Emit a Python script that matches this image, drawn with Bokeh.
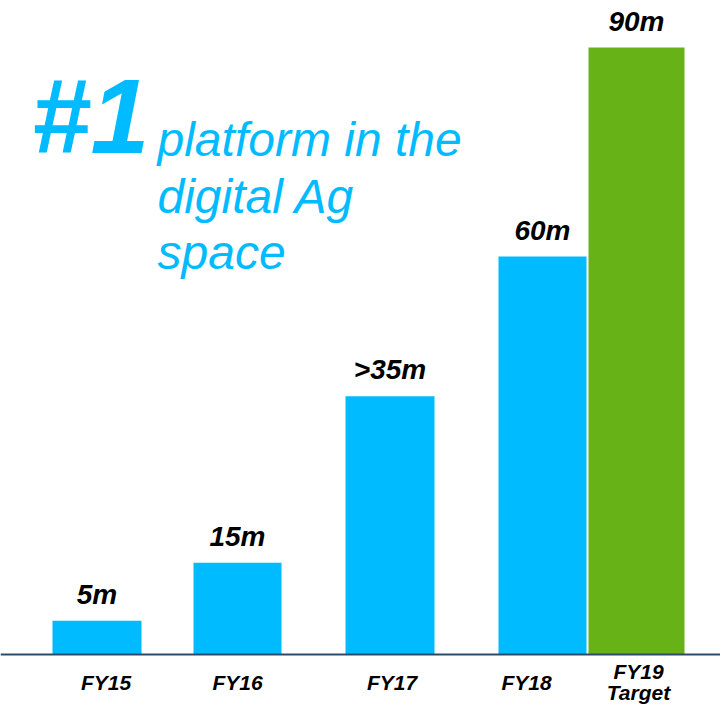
from bokeh.plotting import figure
from bokeh.models import ColumnDataSource, Range1d, Span
from bokeh.core.properties import value
from bokeh.embed import file_html
from bokeh.resources import INLINE

# ---- data ----
categories = ["FY15", "FY16", "FY17", "FY18", "FY19\nTarget"]
users_m = [5.0, 13.6, 38.3, 59.0, 90.0]
value_labels = ["5m", "15m", ">35m", "60m", "90m"]
headline = "#1"
tagline = ["platform in the", "digital Ag", "space"]

# ---- style / layout ----
CYAN = "#00BBFF"
GREEN = "#67B317"
bar_colors = [CYAN, CYAN, CYAN, CYAN, GREEN]
bar_centers = [96.5, 237, 389.5, 542, 636]
bar_widths = [89, 88, 89, 88, 96]
cat_offsets = [9, 0, 2, -16, 2]
FONT = value("Liberation Sans")
BL = 0.37                          # baseline correction (fraction of font size)

W, H = 720, 706
BASE = 654.0                       # pixel y of the zero line
PX_PER_UNIT = (654.0 - 47.0) / 90.0


def ydata(pix_y):
    return (BASE - pix_y) / PX_PER_UNIT


def ybase(pix_baseline, size):
    return ydata(pix_baseline - BL * size)


p = figure(width=W, height=H, output_backend="svg", toolbar_location=None,
           x_range=Range1d(0, W), y_range=Range1d(ydata(H), ydata(0)),
           min_border=0, outline_line_color=None, background_fill_color="white",
           border_fill_color="white")
p.axis.visible = False
p.grid.visible = False

src = ColumnDataSource(dict(x=bar_centers, w=bar_widths, top=users_m,
                            color=bar_colors, lab=value_labels))
p.vbar(x="x", width="w", top="top", bottom=0, fill_color="color",
       line_color=None, source=src)

# value labels above bars
VS = 28
p.text(x="x", y="top", text="lab", source=src, text_font=FONT,
       text_font_style="bold italic", text_font_size=f"{VS}px",
       text_color="black", text_align="center", text_baseline="alphabetic",
       y_offset=-(16 + BL * VS))

# zero line
p.add_layout(Span(location=0, dimension="width", line_color="#2E4A6A",
                  line_width=2))

# category labels
CS = 21
cx, cy, ct = [], [], []
for c, xc, off in zip(categories, bar_centers, cat_offsets):
    lines = c.split("\n")
    first = 690 - 11 * (len(lines) - 1)
    for i, ln in enumerate(lines):
        cx.append(xc + off)
        cy.append(ybase(first + 21 * i, CS))
        ct.append(ln)
p.text(x=cx, y=cy, text=ct, text_font=FONT, text_font_style="bold italic",
       text_font_size=f"{CS}px", text_color="black", text_align="center",
       text_baseline="alphabetic")

# headline
HS = 106
p.text(x=[31], y=[ybase(155, HS)], text=[headline], text_font=FONT,
       text_font_style="bold italic", text_font_size=f"{HS}px", text_color=CYAN,
       text_align="left", text_baseline="alphabetic")
TS = 48
p.text(x=[157] * len(tagline),
       y=[ybase(157 + 56.5 * i, TS) for i in range(len(tagline))],
       text=tagline, text_font=FONT, text_font_style="italic",
       text_font_size=f"{TS}px", text_color=CYAN, text_align="left",
       text_baseline="alphabetic")

open("out.html", "w").write(file_html(p, INLINE))
